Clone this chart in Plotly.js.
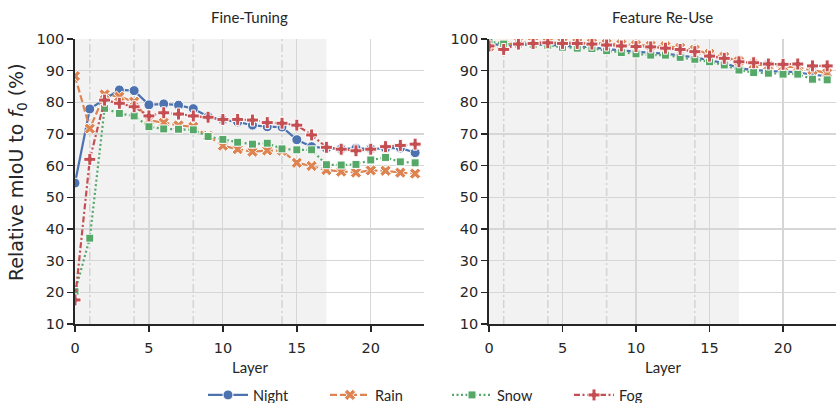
<!DOCTYPE html>
<html>
<head>
<meta charset="utf-8">
<script src="https://cdn.plot.ly/plotly-3.0.1.min.js"></script>
<style>html,body{margin:0;padding:0;background:#fff;}#chart{width:837px;height:403px;}</style>
</head>
<body>
<div id="chart"></div>
<script>
const layers = [0,1,2,3,4,5,6,7,8,9,10,11,12,13,14,15,16,17,18,19,20,21,22,23];
const seriesNames = ["Night", "Rain", "Snow", "Fog"];
const panelTitles = ["Fine-Tuning", "Feature Re-Use"];
const yTicks = [10,20,30,40,50,60,70,80,90,100];
const xTicks = [0,5,10,15,20];
const markedLayers = [1,4,8,14];
const shadedUntil = 17;

// Fine-Tuning
const ftNight = [54.5,77.9,81.0,83.9,83.7,79.2,79.5,79.1,78.0,75.5,74.5,73.8,72.8,72.3,72.2,68.2,66.0,65.5,65.3,65.5,65.3,65.5,65.6,64.1];
const ftRain  = [88.3,71.7,82.5,81.8,80.2,74.3,73.6,72.7,72.3,69.4,66.3,65.2,64.4,64.8,64.7,60.9,59.9,58.6,58.1,57.8,58.5,58.4,57.8,57.5];
const ftSnow  = [20.2,37.1,78.1,76.5,75.7,72.3,71.6,71.5,71.3,69.2,68.3,67.4,66.8,67.1,65.3,65.0,65.0,60.3,60.2,60.4,61.8,62.6,61.2,60.9];
const ftFog   = [17.6,62.0,80.7,79.7,78.6,75.7,76.7,76.3,75.7,75.3,74.6,74.6,74.4,73.6,73.4,72.8,69.7,65.8,65.2,64.7,65.2,66.0,66.4,66.8];

// Feature Re-Use
const frNight = [98.5,98.0,98.3,98.3,98.2,97.8,97.5,97.4,96.8,96.3,96.0,95.6,95.4,94.8,94.2,93.3,92.4,90.8,90.2,89.9,89.7,89.5,88.7,88.3];
const frRain  = [97.6,98.3,98.8,99.0,99.0,98.9,98.8,98.7,98.5,98.3,98.1,97.9,97.7,97.2,96.6,95.3,94.4,93.0,92.0,91.6,91.3,91.0,90.2,89.2];
const frSnow  = [99.3,98.4,98.4,98.2,98.0,97.4,97.1,97.0,96.3,95.7,95.3,94.9,94.9,94.2,93.6,92.8,91.8,90.2,89.4,89.2,88.9,88.9,87.3,87.1];
const frFog   = [97.8,96.7,98.4,98.6,98.8,98.6,98.6,98.4,98.1,97.8,97.6,97.5,97.1,96.7,96.0,94.6,93.9,92.8,92.5,92.1,92.0,92.1,91.5,91.5];

const colors = ["#4c72b0", "#dd8452", "#55a868", "#c44e52"];
const dashes = ["solid", "7px,3px", "2px,2.5px", "6px,2.5px,2px,2.5px"];
const symbols = ["circle", "x", "square", "cross"];
const sizes = [10, 10, 8, 10];

const panels = [[ftNight, ftRain, ftSnow, ftFog], [frNight, frRain, frSnow, frFog]];
const traces = [];
panels.forEach((series, p) => {
  series.forEach((vals, i) => {
    traces.push({
      x: layers, y: vals, type: "scatter", mode: "lines+markers",
      name: seriesNames[i], legendgroup: seriesNames[i], showlegend: p === 0,
      xaxis: p === 0 ? "x" : "x2", yaxis: p === 0 ? "y" : "y2",
      line: {color: colors[i], width: 2.2, dash: dashes[i]},
      marker: {symbol: symbols[i], size: sizes[i], color: colors[i], line: {color: "#ffffff", width: 1}}
    });
  });
});

const W = 837, H = 403;
const fontFam = "Lato, 'Open Sans', sans-serif";
const tickFam = "'DejaVu Sans', sans-serif";
const txt = "#262626";
function xax(l, r) {
  return {
    domain: [l / W, r / W], range: [0, 23.6], tickvals: xTicks, ticktext: xTicks.map(String),
    showgrid: true, gridcolor: "#d6d6d6", gridwidth: 1.2, zeroline: false,
    showline: true, linecolor: "#262626", linewidth: 1.8,
    ticks: "outside", ticklen: 6, tickwidth: 1.5, tickcolor: "#262626", ticklabelstandoff: 4,
    tickfont: {family: tickFam, size: 14.5, color: txt}, fixedrange: true
  };
}
function yax(anchor) {
  return {
    domain: [(H - 324) / H, (H - 39) / H], range: [10, 100], tickvals: yTicks, ticktext: yTicks.map(String),
    showgrid: true, gridcolor: "#d6d6d6", gridwidth: 1.2, zeroline: false,
    showline: true, linecolor: "#262626", linewidth: 1.8, anchor: anchor,
    ticks: "outside", ticklen: 6, tickwidth: 1.5, tickcolor: "#262626",
    tickfont: {family: tickFam, size: 14.5, color: txt}, fixedrange: true
  };
}

const shapes = [];
[["x", "y"], ["x2", "y2"]].forEach(([xr, yr]) => {
  shapes.push({type: "rect", xref: xr, yref: "paper", x0: 0, x1: shadedUntil, y0: (H - 324) / H, y1: (H - 39) / H,
    fillcolor: "#f2f2f2", line: {width: 0}, layer: "below"});
  markedLayers.forEach(m => {
    shapes.push({type: "line", xref: xr, yref: "paper", x0: m, x1: m, y0: (H - 324) / H, y1: (H - 39) / H,
      line: {color: "#d3d3d3", width: 1.5, dash: "8px,3px,2px,3px"}, layer: "below"});
  });
});

const annotations = [
  {text: panelTitles[0], x: (75 + 424) / 2 / W, y: (H - 17) / H, xref: "paper", yref: "paper", showarrow: false,
   xanchor: "center", yanchor: "middle", font: {family: fontFam, size: 15, color: txt}},
  {text: panelTitles[1], x: (489 + 836) / 2 / W, y: (H - 17) / H, xref: "paper", yref: "paper", showarrow: false,
   xanchor: "center", yanchor: "middle", font: {family: fontFam, size: 15, color: txt}},
  {text: "Layer", x: (75 + 424) / 2 / W, y: (H - 367) / H, xref: "paper", yref: "paper", showarrow: false,
   xanchor: "center", yanchor: "middle", font: {family: fontFam, size: 15, color: txt}},
  {text: "Layer", x: (489 + 836) / 2 / W, y: (H - 367) / H, xref: "paper", yref: "paper", showarrow: false,
   xanchor: "center", yanchor: "middle", font: {family: fontFam, size: 15, color: txt}},
  {text: "Relative mIoU to <i>f</i><sub>0</sub> (%)", x: 17 / W, y: (H - 172) / H, xref: "paper", yref: "paper",
   showarrow: false, textangle: -90, xanchor: "center", yanchor: "middle", font: {family: tickFam, size: 19, color: txt}}
];

const layout = {
  width: W, height: H, margin: {l: 0, r: 0, t: 0, b: 0, autoexpand: false},
  paper_bgcolor: "#ffffff", plot_bgcolor: "#ffffff",
  xaxis: xax(75, 424), yaxis: yax("x"),
  xaxis2: xax(489, 836), yaxis2: yax("x2"),
  shapes: shapes, annotations: annotations,
  showlegend: true,
  legend: {orientation: "h", x: 203 / W, xanchor: "left", y: (H - 395) / H, yanchor: "middle",
    font: {family: fontFam, size: 14.5, color: txt}, itemwidth: 40, entrywidth: 67, entrywidthmode: "pixels",
    tracegroupgap: 0, bgcolor: "rgba(0,0,0,0)"}
};

Plotly.newPlot("chart", traces, layout, {staticPlot: true, displayModeBar: false});
</script>
</body>
</html>
